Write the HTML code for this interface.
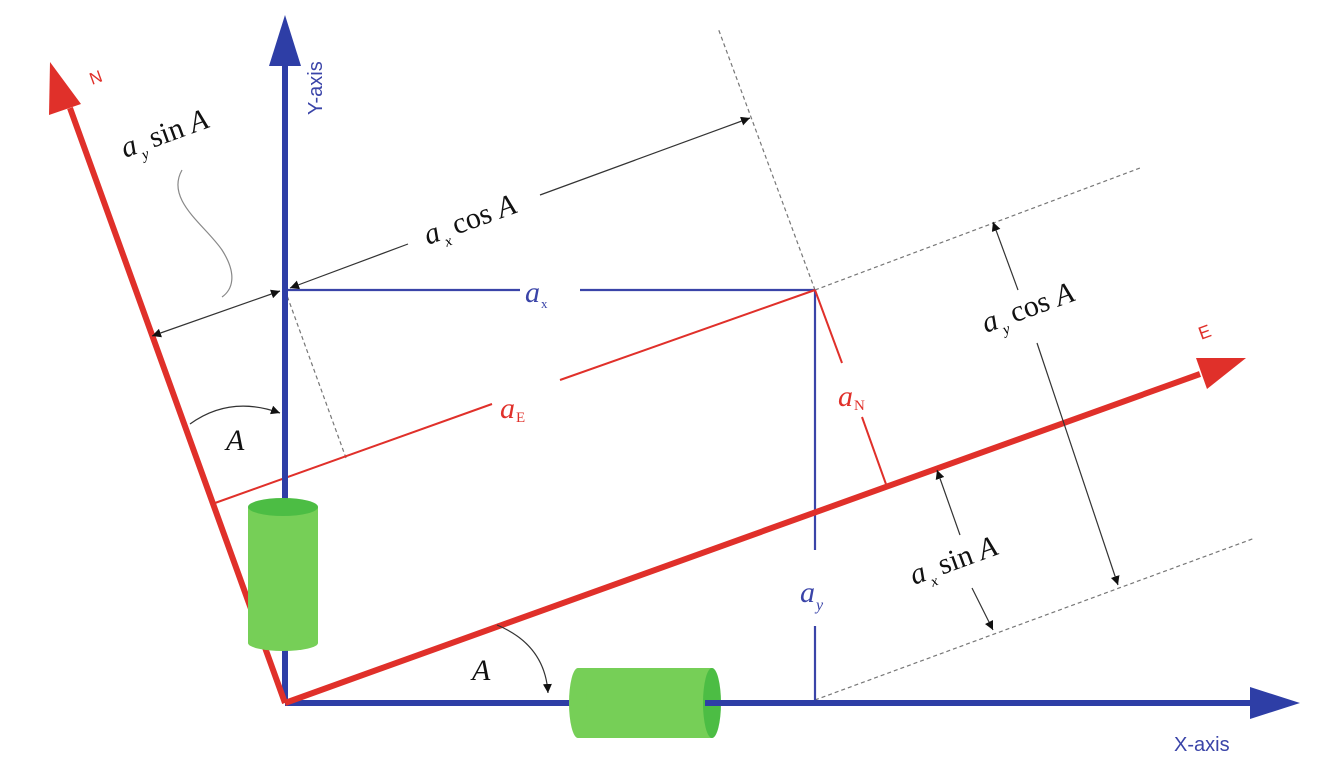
<!DOCTYPE html>
<html><head><meta charset="utf-8"><style>
html,body{margin:0;padding:0;background:#fff;width:1324px;height:760px;overflow:hidden}
svg{display:block}
.m{font-family:"Liberation Serif",serif;font-size:30px;fill:#111}
.i{font-style:italic}
</style></head><body>
<svg width="1324" height="760" viewBox="0 0 1324 760">
<defs>
<marker id="ah" viewBox="0 0 10 10" refX="10" refY="5" markerWidth="9" markerHeight="9" markerUnits="userSpaceOnUse" orient="auto-start-reverse"><path d="M0,0L10,5L0,10z" fill="#111"/></marker>
</defs>
<!-- dashed guides -->
<g stroke="#777" stroke-width="1.2" stroke-dasharray="4,3" fill="none">
<line x1="815" y1="290" x2="718" y2="28"/>
<line x1="285" y1="290" x2="346" y2="458"/>
<line x1="815" y1="290" x2="1140" y2="168"/>
<line x1="815" y1="700" x2="1255" y2="538"/>
</g>
<!-- blue thin component lines -->
<g stroke="#3a44a8" stroke-width="2.2">
<line x1="285" y1="290" x2="520" y2="290"/>
<line x1="580" y1="290" x2="815" y2="290"/>
<line x1="815" y1="290" x2="815" y2="550"/>
<line x1="815" y1="626" x2="815" y2="703"/>
</g>
<!-- red thin component lines -->
<g stroke="#e0302a" stroke-width="2">
<line x1="215" y1="503" x2="492" y2="404"/>
<line x1="560" y1="380" x2="815" y2="290"/>
<line x1="815" y1="290" x2="842" y2="363"/>
<line x1="862" y1="417" x2="887" y2="487"/>
</g>
<text x="525" y="302" class="m i" fill="#3a44a8" style="fill:#3a44a8">a</text><text x="541" y="308" style="font:13px 'Liberation Serif';fill:#3a44a8">x</text>
<text x="800" y="602" class="m i" style="fill:#3a44a8">a</text><text x="816" y="610" style="font:16px 'Liberation Serif';fill:#3a44a8;font-style:italic">y</text>
<text x="500" y="418" class="m i" style="fill:#e0302a">a</text><text x="516" y="422" style="font:15px 'Liberation Serif';fill:#e0302a">E</text>
<text x="838" y="406" class="m i" style="fill:#e0302a">a</text><text x="854" y="410" style="font:15px 'Liberation Serif';fill:#e0302a">N</text>
<!-- main axes -->
<line x1="285" y1="703" x2="1252" y2="703" stroke="#2e3ea6" stroke-width="6"/>
<polygon points="1300,703 1250,687 1250,719" fill="#2e3ea6"/>
<line x1="285" y1="703" x2="285" y2="62" stroke="#2e3ea6" stroke-width="6"/>
<polygon points="285,15 269,66 301,66" fill="#2e3ea6"/>
<line x1="285" y1="703" x2="1200" y2="374" stroke="#e0302a" stroke-width="6"/>
<polygon points="1246,358 1196,358 1207,389" fill="#e0302a"/>
<line x1="285" y1="703" x2="70" y2="108" stroke="#e0302a" stroke-width="6"/>
<polygon points="50,62 49,115 81,104" fill="#e0302a"/>
<text x="0" y="0" transform="translate(92,85) rotate(-20)" style="font:17px 'Liberation Sans';fill:#e0302a">N</text>
<text x="0" y="0" transform="translate(322,115) rotate(-90)" style="font:20px 'Liberation Sans';fill:#3a44a8">Y-axis</text>
<text x="1198" y="338" style="font:18px 'Liberation Sans';fill:#e0302a" transform="rotate(-20 1205 330)">E</text>
<text x="1174" y="751" style="font:20px 'Liberation Sans';fill:#3a44a8">X-axis</text>
<!-- cylinders -->
<rect x="248" y="507" width="70" height="136" fill="#76cf57"/>
<ellipse cx="283" cy="643" rx="35" ry="8" fill="#76cf57"/>
<ellipse cx="283" cy="507" rx="35" ry="9" fill="#4cbd44"/>
<rect x="578" y="668" width="134" height="70" fill="#76cf57"/>
<ellipse cx="578" cy="703" rx="9" ry="35" fill="#76cf57"/>
<ellipse cx="712" cy="703" rx="9" ry="35" fill="#4cbd44"/>
<line x1="705" y1="703" x2="722" y2="703" stroke="#2e3ea6" stroke-width="6"/>
<!-- dimension arrows -->
<g stroke="#333" stroke-width="1.2" fill="none">
<line x1="290" y1="288" x2="408" y2="244" marker-start="url(#ah)"/>
<line x1="540" y1="195" x2="750" y2="118" marker-end="url(#ah)"/>
<line x1="152" y1="336" x2="280" y2="291" marker-start="url(#ah)" marker-end="url(#ah)"/>
<line x1="1018" y1="290" x2="993" y2="222" marker-end="url(#ah)"/>
<line x1="1037" y1="343" x2="1118" y2="585" marker-end="url(#ah)"/>
<line x1="960" y1="535" x2="937" y2="470" marker-end="url(#ah)"/>
<line x1="972" y1="588" x2="993" y2="630" marker-end="url(#ah)"/>
<path d="M190,424 Q230,395 280,413" marker-end="url(#ah)"/>
<path d="M497,625 Q545,645 548,693" marker-end="url(#ah)"/>
<path d="M182,170 C165,200 205,225 222,250 C238,275 232,290 222,297" stroke="#888"/>
</g>
<text class="m i" x="226" y="450">A</text>
<text class="m i" x="472" y="680">A</text>
<g transform="translate(125,158) rotate(-20)"><text class="m i" x="0" y="0">a</text><text x="17" y="8" style="font:15px 'Liberation Serif';font-style:italic">y</text><text class="m" x="30" y="0">sin <tspan class="i">A</tspan></text></g>
<g transform="translate(428,245) rotate(-20)"><text class="m i" x="0" y="0">a</text><text x="17" y="8" style="font:15px 'Liberation Serif';font-style:italic">x</text><text class="m" x="30" y="0">cos <tspan class="i">A</tspan></text></g>
<g transform="translate(986,333) rotate(-20)"><text class="m i" x="0" y="0">a</text><text x="17" y="8" style="font:15px 'Liberation Serif';font-style:italic">y</text><text class="m" x="30" y="0">cos <tspan class="i">A</tspan></text></g>
<g transform="translate(914,585) rotate(-20)"><text class="m i" x="0" y="0">a</text><text x="17" y="8" style="font:15px 'Liberation Serif';font-style:italic">x</text><text class="m" x="30" y="0">sin <tspan class="i">A</tspan></text></g>
</svg>
</body></html>
